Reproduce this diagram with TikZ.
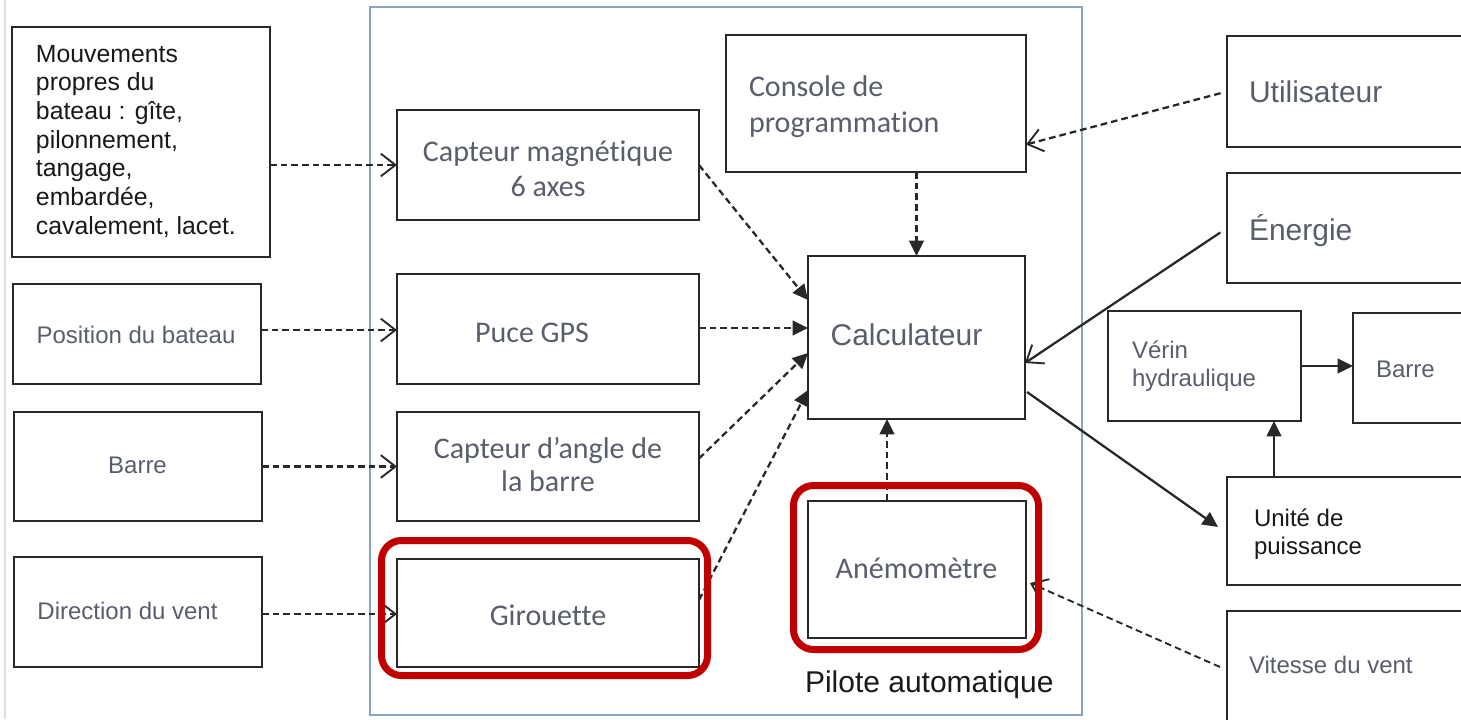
\documentclass[tikz,border=0pt]{standalone}
\usepackage{fontspec}
\setmainfont{Liberation Sans}
\newfontfamily\carl[Ligatures=NoCommon]{Carlito}
\usetikzlibrary{arrows.meta,fit,calc}
\definecolor{txtc}{RGB}{88,94,108}
\definecolor{darkc}{RGB}{25,25,25}
\definecolor{linec}{RGB}{40,40,40}
\definecolor{pilc}{RGB}{140,165,190}
\definecolor{hlc}{RGB}{192,0,0}
\tikzset{
  box/.style={draw=linec, line width=2.1pt, inner sep=0pt, outer sep=0pt, fill=white},
  pilbox/.style={draw=pilc, line width=1.4pt, inner sep=0pt, outer sep=0pt},
  hlbox/.style={draw=hlc, line width=5.25pt, rounded corners=15pt, inner sep=0pt, outer sep=0pt},
  lbl/.style={inner sep=0pt, outer sep=0pt, text=txtc},
  fs/.style={font=\fontsize{18}{21}\selectfont},
  fb/.style={font=\fontsize{22.5}{27}\selectfont},
  fc/.style={font=\carl\fontsize{22.5}{26.25}\selectfont},
  dsh/.style={draw=linec, line width=1.7pt, dash pattern=on 5pt off 3pt},
  sol/.style={draw=linec, line width=1.7pt},
  openarr/.style={-{Straight Barb[length=11pt,width=17pt,line width=1.4pt]}},
  fillarr/.style={-{Triangle[length=11.5pt,width=11pt]}},
}
\begin{document}
\begin{tikzpicture}[x=0.75pt,y=-0.75pt]
\useasboundingbox (0,0) rectangle (1461,719);
\clip (0,0) rectangle (1461,719);
\fill[white] (0,0) rectangle (1461,719);
\draw[gray!25, line width=0.8pt] (5,0) -- (5,719);

% Pilote automatique frame
\node[pilbox, fit={(370,7)(1082,715)}] (pil) {};

% boxes
\node[box, fit={(12,27)(270,257)}] (mouv) {};
\node[box, fit={(13,284)(261,384)}] (pos) {};
\node[box, fit={(14,412)(262,521)}] (barL) {};
\node[box, fit={(14,557)(262,667)}] (dir) {};
\node[box, fit={(397,110)(699,220)}] (mag) {};
\node[box, fit={(397,274)(699,384)}] (gps) {};
\node[box, fit={(397,412)(699,521)}] (ang) {};
\node[box, fit={(397,559)(699,667)}] (gir) {};
\node[box, fit={(726,35)(1026,172)}] (cons) {};
\node[box, fit={(808,256)(1025,419)}] (calcu) {};
\node[box, fit={(808,501)(1026,638)}] (anemo) {};
\node[box, fit={(1227,36)(1480,147)}] (util) {};
\node[box, fit={(1227,173)(1480,283)}] (ener) {};
\node[box, fit={(1108,311)(1301,421)}] (verin) {};
\node[box, fit={(1353,313)(1480,423)}] (barR) {};
\node[box, fit={(1227,477)(1480,585)}] (unite) {};
\node[box, fit={(1227,611)(1480,740)}] (vit) {};

% texts
\node[lbl, text=darkc, font=\fontsize{18.6}{21.5}\selectfont, align=left, anchor=north west] (t-mouv) at (36,45)
  {Mouvements\\propres du\\bateau : gîte,\\pilonnement,\\tangage,\\embardée,\\cavalement, lacet.};
\node[lbl, fs, anchor=base] (t-pos) at (136,343) {Position du bateau};
\node[lbl, fs, anchor=base] (t-barL) at (137.5,473) {Barre};
\node[lbl, fs, anchor=base] (t-dir) at (127.5,619) {Direction du vent};
\node[lbl, fc, align=center, anchor=north] (t-mag) at (548,141) {Capteur magnétique\\6 axes};
\node[lbl, fc, anchor=base] (t-gps) at (532,342) {Puce GPS};
\node[lbl, font=\carl\fontsize{22.5}{24.75}\selectfont, align=center, anchor=north] (t-ang) at (548,437) {Capteur d’angle de\\la barre};
\node[lbl, fc, anchor=base] (t-gir) at (548,625) {Girouette};
\node[lbl, font=\carl\fontsize{22.5}{27}\selectfont, align=left, anchor=north west] (t-cons) at (749,76) {Console de\\programmation};
\node[lbl, fb, anchor=base] (t-calc) at (906.5,345) {Calculateur};
\node[lbl, fc, anchor=base] (t-anemo) at (916.5,578) {Anémomètre};
\node[lbl, fb, anchor=base west] (t-util) at (1249,102) {Utilisateur};
\node[lbl, fb, anchor=base west] (t-ener) at (1249,240) {Énergie};
\node[lbl, fs, align=left, anchor=north west] (t-verin) at (1132,341) {Vérin\\hydraulique};
\node[lbl, fs, anchor=base west] (t-barR) at (1376,377) {Barre};
\node[lbl, text=darkc, font=\fontsize{18}{20.5}\selectfont, align=left, anchor=north west] (t-unite) at (1254,509) {Unité de\\puissance};
\node[lbl, fs, anchor=base west] (t-vit) at (1249,673) {Vitesse du vent};
\node[lbl, text=black!90, fb, anchor=base west] (t-pil) at (805,692) {Pilote automatique};

% connectors: inputs
\coordinate (m1) at ($(mouv.east)+(0,23)$);
\draw[dsh, openarr] (m1) -- (m1 -| mag.west);
\coordinate (p1) at ($(pos.east)+(0,-4)$);
\draw[dsh, openarr] (p1) -- (p1 -| gps.west);
\draw[dsh, openarr] (barL.east) -- (barL.east -| ang.west);
\coordinate (d1) at ($(dir.east)+(0,2)$);
\draw[dsh, openarr] (d1) -- (d1 -| gir.west);

% sensors to calculator
\draw[dsh, fillarr] (mag.east) -- ($(calcu.north west)+(0,44)$);
\draw[dsh, fillarr] ($(gps.east)+(0,-1)$) -- ($(calcu.north west)+(0,72)$);
\draw[dsh, fillarr] ($(ang.east)+(0,-8)$) -- ($(calcu.north west)+(0,97)$);
\draw[dsh, fillarr] ($(gir.east)+(0,-13)$) -- ($(calcu.north west)+(0,134)$);
\draw[dsh, fillarr] (cons.south -| calcu.north) -- (calcu.north);
\coordinate (a1) at ($(anemo.north)+(-30,0)$);
\draw[dsh, fillarr] (a1) -- (a1 |- calcu.south);

% right side
\draw[dsh, openarr, shorten <=5pt] (util.west) -- ($(cons.east)+(0,41)$);
\draw[sol, openarr, shorten <=6pt] (ener.west) -- ($(calcu.east)+(0,25.5)$);
\draw[sol, fillarr] ($(calcu.east)+(2,54.5)$) -- ($(unite.west)+(-9,-4)$);
\coordinate (u1) at ($(unite.north west)+(47,0)$);
\draw[sol, fillarr] (u1) -- (u1 |- verin.south);
\draw[sol, fillarr] (verin.east) -- (verin.east -| barR.west);
\draw[dsh, openarr, line width=1.4pt] ($(vit.north west)+(-7,56)$) -- ($(anemo.east)+(4,13.5)$);

% red highlights
\node[hlbox, fit={(381.5,540.5)(707.5,675.5)}] (hl-gir) {};
\node[hlbox, fit={(793.5,485.5)(1038.5,649.5)}] (hl-anemo) {};
\end{tikzpicture}
\end{document}
